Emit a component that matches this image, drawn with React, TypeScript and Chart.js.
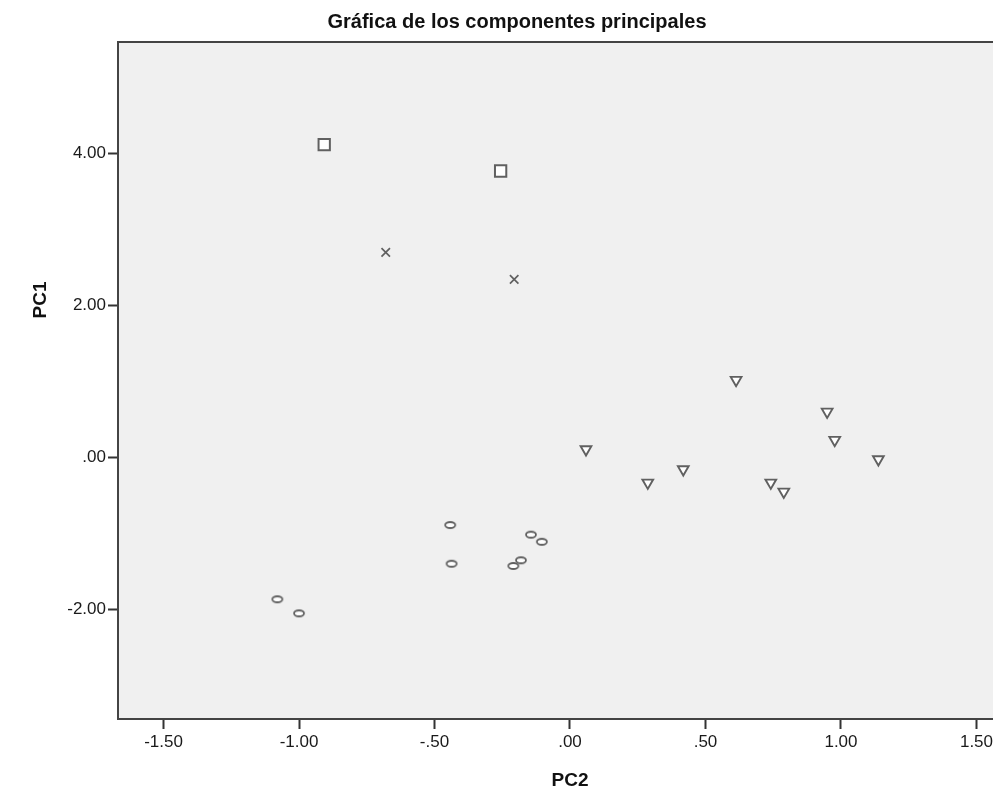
import React, { useEffect, useRef } from 'react';
import { Chart, registerables } from 'chart.js';

Chart.register(...registerables);

const chartTitle = 'Gráfica de los componentes principales';
const xAxisTitle = 'PC2';
const yAxisTitle = 'PC1';

const xTicks = [-1.5, -1, -0.5, 0, 0.5, 1, 1.5];
const yTicks = [-2, 0, 2, 4];
const xMin = -1.668;
const xMax = 1.561;
const yMin = -3.443;
const yMax = 5.464;

// Group 1: squares
const squareX = [-0.907, -0.256];
const squareY = [4.113, 3.767];
// Group 2: crosses
const crossX = [-0.68, -0.206];
const crossY = [2.697, 2.342];
// Group 3: triangles (pointing down)
const triangleX = [0.613, 0.949, 0.977, 1.138, 0.059, 0.418, 0.287, 0.741, 0.789];
const triangleY = [1.017, 0.6, 0.228, -0.026, 0.105, -0.158, -0.334, -0.334, -0.453];
// Group 4: ellipses
const ellipseX = [-1.08, -1.0, -0.442, -0.437, -0.144, -0.104, -0.181, -0.209];
const ellipseY = [-1.868, -2.053, -0.891, -1.4, -1.018, -1.111, -1.355, -1.43];

const markerColor = '#606060';
const FONT = '"Liberation Sans", Arial, sans-serif';

const pts = (xs: number[], ys: number[]) => xs.map((x, i) => ({ x, y: ys[i] }));

const fmt = (v: number) => {
  const s = Math.abs(v).toFixed(2).replace(/^0/, '');
  return (v < 0 ? '-' : '') + s;
};

function makeEllipse(): HTMLCanvasElement {
  const c = document.createElement('canvas');
  c.width = 16;
  c.height = 12;
  const g = c.getContext('2d')!;
  g.beginPath();
  g.ellipse(8, 6, 5.0, 3.0, 0, 0, Math.PI * 2);
  g.fillStyle = '#ffffff';
  g.fill();
  g.lineWidth = 1.8;
  g.strokeStyle = markerColor;
  g.stroke();
  return c;
}

const decoPlugin = {
  id: 'deco',
  beforeDraw(chart: any) {
    const { ctx, chartArea } = chart;
    const { left, top, right, bottom } = chartArea;
    ctx.save();
    ctx.fillStyle = '#f0f0f0';
    ctx.fillRect(left, top, right - left, bottom - top);
    ctx.restore();
  },
  afterDraw(chart: any) {
    const { ctx, chartArea } = chart;
    const { left, top, right } = chartArea;
    ctx.save();
    ctx.strokeStyle = '#444444';
    ctx.lineWidth = 2;
    ctx.beginPath();
    ctx.moveTo(left - 1, top);
    ctx.lineTo(right, top);
    ctx.stroke();

    ctx.fillStyle = '#111111';
    ctx.textAlign = 'center';
    ctx.textBaseline = 'middle';
    ctx.font = `bold 20px ${FONT}`;
    ctx.fillText(chartTitle, 517, 22);

    ctx.font = `bold 19px ${FONT}`;
    ctx.fillText(xAxisTitle, 570, 781);

    ctx.translate(41, 300);
    ctx.rotate(-Math.PI / 2);
    ctx.fillText(yAxisTitle, 0, 0);
    ctx.restore();
  },
};

export default function App() {
  const ref = useRef<HTMLCanvasElement | null>(null);

  useEffect(() => {
    document.body.style.margin = '0';
    const canvas = ref.current;
    if (!canvas) return;
    const ellipse = makeEllipse();

    const tickFont = { family: FONT, size: 17 };

    const chart = new Chart(canvas, {
      type: 'scatter',
      data: {
        datasets: [
          {
            label: 'g1',
            data: pts(squareX, squareY),
            pointStyle: 'rect',
            pointRadius: 8,
            pointBorderWidth: 2,
            borderColor: markerColor,
            backgroundColor: '#ffffff',
          },
          {
            label: 'g2',
            data: pts(crossX, crossY),
            pointStyle: 'crossRot',
            pointRadius: 6,
            pointBorderWidth: 1.7,
            borderColor: markerColor,
            backgroundColor: markerColor,
          },
          {
            label: 'g3',
            data: pts(triangleX, triangleY),
            pointStyle: 'triangle',
            rotation: 180,
            pointRadius: 6.2,
            pointBorderWidth: 1.9,
            borderColor: markerColor,
            backgroundColor: '#ffffff',
          },
          {
            label: 'g4',
            data: pts(ellipseX, ellipseY),
            pointStyle: ellipse as any,
            pointRadius: 5,
            borderColor: markerColor,
            backgroundColor: '#ffffff',
          },
        ],
      },
      options: {
        animation: false,
        responsive: false,
        maintainAspectRatio: false,
        layout: { autoPadding: false, padding: { top: 42, right: 0, left: 0, bottom: 0 } },
        plugins: {
          legend: { display: false },
          title: { display: false },
          tooltip: { enabled: false },
        },
        scales: {
          x: {
            type: 'linear',
            min: xMin,
            max: xMax,
            afterBuildTicks: (scale: any) => {
              scale.ticks = xTicks.map((v) => ({ value: v }));
            },
            afterFit: (scale: any) => {
              scale.height = 72;
              scale.paddingLeft = 0;
              scale.paddingRight = 0;
            },
            ticks: {
              autoSkip: false,
              maxRotation: 0,
              minRotation: 0,
              padding: 3,
              color: '#1a1a1a',
              font: tickFont,
              callback: (v: any) => fmt(Number(v)),
            },
            grid: {
              display: true,
              drawOnChartArea: false,
              drawTicks: true,
              tickLength: 10,
              tickColor: '#333333',
              tickWidth: 2,
            },
            border: { display: true, color: '#444444', width: 2 },
          },
          y: {
            type: 'linear',
            min: yMin,
            max: yMax,
            afterBuildTicks: (scale: any) => {
              scale.ticks = yTicks.map((v) => ({ value: v }));
            },
            afterFit: (scale: any) => {
              scale.width = 118;
              scale.paddingTop = 0;
              scale.paddingBottom = 0;
            },
            ticks: {
              autoSkip: false,
              padding: 2,
              color: '#1a1a1a',
              font: tickFont,
              callback: (v: any) => fmt(Number(v)),
            },
            grid: {
              display: true,
              drawOnChartArea: false,
              drawTicks: true,
              tickLength: 10,
              tickColor: '#333333',
              tickWidth: 2,
            },
            border: { display: true, color: '#444444', width: 2 },
          },
        },
      },
      plugins: [decoPlugin],
    });

    return () => chart.destroy();
  }, []);

  return (
    <div style={{ width: 993, height: 791 }}>
      <canvas ref={ref} width={993} height={791} style={{ display: 'block' }} />
    </div>
  );
}
